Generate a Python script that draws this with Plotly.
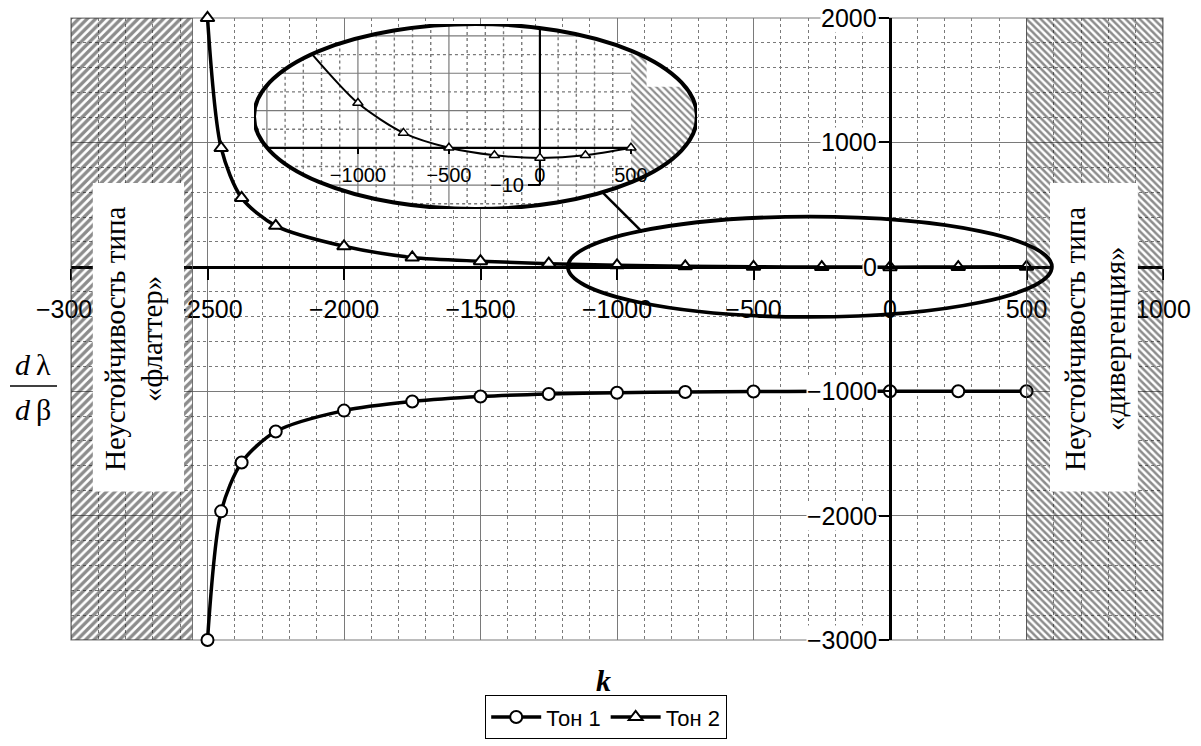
import numpy as np
import plotly.graph_objects as go

# ---------------- data ----------------
k_values = [-2500, -2450, -2375, -2250, -2000, -1750, -1500, -1250,
            -1000, -750, -500, -250, 0, 250, 500]
ton1_values = [-3000, -1966, -1573, -1324, -1156, -1083, -1043, -1022,
               -1012, -1006, -1003, -1001, -1000, -1000, -1000]
ton2_values = [2000, 955, 554, 329, 165, 75, 45, 25,
               12, 4, 0, -2, -2.7, -2, 0]
series_names = ["Тон 1", "Тон 2"]

x_tick_values = [-3000, -2500, -2000, -1500, -1000, -500, 0, 500, 1000]
y_tick_values = [2000, 1000, 0, -1000, -2000, -3000]
inset_x_tick_values = [-1000, -500, 0, 500]
inset_y_tick_values = [-10]

zone_left_text = ["Неустойчивость типа", "«флаттер»"]
zone_right_text = ["Неустойчивость типа", "«дивергенция»"]


def fmt(v):
    return str(v).replace("-", "\u2212")


# ---------------- layout geometry ----------------
W, H = 1201, 746
ML, MR, MT, MB = 71, 38, 18, 106
PW = W - ML - MR
PH = H - MT - MB


def pxx(px):
    return (px - ML) / PW


def pyy(py):
    return (H - MB - py) / PH


XR = [-3000, 1000]
YR = [-3000, 2000]
X2R = [-1571, 863]
Y2R = [-16.4, 33.2]
GRID = "#7a7a7a"
SANS = "Liberation Sans, Arial, sans-serif"
SERIF = "Liberation Serif, Times New Roman, serif"

ecx = (X2R[0] + X2R[1]) / 2
erx = (X2R[1] - X2R[0]) / 2
ecy = (Y2R[0] + Y2R[1]) / 2
ery = (Y2R[1] - Y2R[0]) / 2


def ell_half_h(x):
    u = (x - ecx) / erx
    return ery * np.sqrt(max(0.0, 1 - u * u))


def ell_half_w(y):
    v = (y - ecy) / ery
    return erx * np.sqrt(max(0.0, 1 - v * v))


fig = go.Figure()

# ---------------- main series ----------------
markers = [dict(symbol="circle", size=12, color="white", line=dict(color="black", width=2)),
           dict(symbol="triangle-up", size=12, color="white", line=dict(color="black", width=2))]
for name, vals, mk in zip(series_names, [ton1_values, ton2_values], markers):
    fig.add_trace(go.Scatter(
        x=k_values, y=vals, name=name, mode="lines+markers",
        line=dict(color="black", width=3.5, shape="spline", smoothing=0.8),
        marker=mk, cliponaxis=False, xaxis="x", yaxis="y"))

# ---------------- inset (x2/y2) ----------------
notch_x, notch_y = 586, 16.4
pts_x, pts_y = [], []
pts_x += [500, 500]
pts_y += [ecy - ell_half_h(500), ecy + ell_half_h(500)]
for xx in np.linspace(500, notch_x, 12):
    pts_x.append(xx)
    pts_y.append(ecy + ell_half_h(xx))
pts_x.append(notch_x)
pts_y.append(notch_y)
xr_n = ecx + ell_half_w(notch_y)
th1 = np.arctan2((notch_y - ecy) / ery, (xr_n - ecx) / erx)
th2 = np.arctan2(-ell_half_h(500) / ery, (500 - ecx) / erx)
for th in np.linspace(th1, th2, 40):
    pts_x.append(ecx + erx * np.cos(th))
    pts_y.append(ecy + ery * np.sin(th))
fig.add_trace(go.Scatter(
    x=pts_x, y=pts_y, mode="lines", fill="toself", line=dict(width=0),
    fillcolor="rgba(0,0,0,0)",
    fillpattern=dict(shape="\\", size=5, solidity=0.45, fgcolor="#1e1e1e",
                     bgcolor="rgba(0,0,0,0)"),
    showlegend=False, hoverinfo="skip", xaxis="x2", yaxis="y2"))

inset_line_k = [k for k in k_values if k >= -1250]
inset_line_v = [v for k, v in zip(k_values, ton2_values) if k >= -1250]
inset_mk_k = [k for k in k_values if k >= -1000]
inset_mk_v = [v for k, v in zip(k_values, ton2_values) if k >= -1000]
fig.add_trace(go.Scatter(
    x=inset_line_k, y=inset_line_v, mode="lines",
    line=dict(color="black", width=2, shape="spline", smoothing=0.8),
    showlegend=False, hoverinfo="skip", xaxis="x2", yaxis="y2"))
fig.add_trace(go.Scatter(
    x=inset_mk_k, y=inset_mk_v, mode="markers",
    marker=dict(symbol="triangle-up", size=9, color="white", line=dict(color="black", width=1.5)),
    showlegend=False, hoverinfo="skip", xaxis="x2", yaxis="y2", cliponaxis=False))

# ---------------- hatched instability zones (x3/y3, above main labels) ----------------
zones = [(-3000, -2555, "/", 6, 0.56), (500, 1000, "\\", 5, 0.5)]
for x0, x1, shp, sz, sol in zones:
    fig.add_trace(go.Scatter(
        x=[x0, x1, x1, x0, x0], y=[YR[0], YR[0], YR[1], YR[1], YR[0]],
        mode="lines", fill="toself", line=dict(width=0.8, color="#555"),
        fillcolor="rgba(0,0,0,0)",
        fillpattern=dict(shape=shp, size=sz, solidity=sol, fgcolor="#1a1a1a",
                         bgcolor="rgba(0,0,0,0)"),
        showlegend=False, hoverinfo="skip", xaxis="x3", yaxis="y3"))

shapes = []
shapes.append(dict(type="rect", xref="paper", yref="paper", x0=0, x1=1, y0=0, y1=1,
                   line=dict(color=GRID, width=1.2), layer="below"))
shapes.append(dict(type="circle", xref="x2", yref="y2", x0=X2R[0], x1=X2R[1],
                   y0=Y2R[0], y1=Y2R[1], fillcolor="white", line=dict(width=0), layer="below"))
for gx in range(-1500, 500, 100):
    if gx == 0:
        continue
    h = ell_half_h(gx)
    major = gx % 500 == 0
    shapes.append(dict(type="line", xref="x2", yref="y2", x0=gx, x1=gx,
                       y0=ecy - h, y1=ecy + h, layer="below",
                       line=dict(color=GRID, width=1.2 if major else 1.4,
                                 dash="solid" if major else "dot")))
for gy in [-15, -10, -5, 5, 10, 15, 20, 25, 30]:
    w = ell_half_w(gy)
    major = gy % 10 == 0
    shapes.append(dict(type="line", xref="x2", yref="y2", x0=ecx - w, x1=min(ecx + w, 500),
                       y0=gy, y1=gy, layer="below",
                       line=dict(color=GRID, width=1.2 if major else 1.4,
                                 dash="solid" if major else "dot")))
shapes.append(dict(type="line", xref="x2", yref="y2", x0=ecx - ell_half_w(0), x1=500,
                   y0=0, y1=0, line=dict(color="black", width=2.2), layer="below"))
shapes.append(dict(type="line", xref="x2", yref="y2", x0=0, x1=0,
                   y0=-10, y1=ecy + ell_half_h(0), line=dict(color="black", width=2.2),
                   layer="below"))
for bx0, bx1 in [(-2920, -2586), (586, 908)]:
    shapes.append(dict(type="rect", xref="x", yref="y", x0=bx0, x1=bx1, y0=-1806, y1=674,
                       fillcolor="white", line=dict(width=0), layer="above"))
shapes.append(dict(type="circle", xref="x", yref="y", x0=-1180, x1=593, y0=-403, y1=403,
                   line=dict(color="black", width=3.8), layer="above"))
shapes.append(dict(type="circle", xref="x2", yref="y2", x0=X2R[0], x1=X2R[1],
                   y0=Y2R[0], y1=Y2R[1], line=dict(color="black", width=4), layer="above"))
shapes.append(dict(type="line", xref="x", yref="y", x0=-1051, y0=595, x1=-908, y1=281,
                   line=dict(color="black", width=2.5), layer="above"))
shapes.append(dict(type="line", xref="paper", yref="paper", x0=pxx(10), x1=pxx(57),
                   y0=pyy(386), y1=pyy(386), line=dict(color="black", width=1.5)))

annotations = []
for v in y_tick_values:
    annotations.append(dict(x=0, y=v, xref="x", yref="y", text=fmt(v), showarrow=False,
                            xanchor="right", yanchor="middle", xshift=-12,
                            bgcolor="white", borderpad=0,
                            font=dict(family=SANS, size=25, color="black")))
for xs, lines in [((-2839, -2703), zone_left_text), ((678, 824), zone_right_text)]:
    for xv, t in zip(xs, lines):
        annotations.append(dict(x=xv, y=-580, xref="x", yref="y", text=t, showarrow=False,
                                textangle=-90, xanchor="center", yanchor="middle",
                                font=dict(family=SERIF, size=29, color="black")))
annotations.append(dict(x=pxx(603), y=pyy(680), xref="paper", yref="paper",
                        text="<b><i>k</i></b>", showarrow=False,
                        xanchor="center", yanchor="middle",
                        font=dict(family=SERIF, size=30, color="black")))
annotations.append(dict(x=pxx(33), y=pyy(364), xref="paper", yref="paper",
                        text="<i>d</i>\u2009λ", showarrow=False,
                        xanchor="center", yanchor="middle",
                        font=dict(family=SERIF, size=30, color="black")))
annotations.append(dict(x=pxx(33), y=pyy(409), xref="paper", yref="paper",
                        text="<i>d</i>\u2009β", showarrow=False,
                        xanchor="center", yanchor="middle",
                        font=dict(family=SERIF, size=30, color="black")))

fig.update_layout(
    width=W, height=H,
    margin=dict(l=ML, r=MR, t=MT, b=MB, autoexpand=False),
    paper_bgcolor="white", plot_bgcolor="rgba(0,0,0,0)",
    font=dict(family=SANS, color="black"),
    showlegend=True,
    legend=dict(orientation="h", x=pxx(606), y=pyy(739), xanchor="center", yanchor="bottom",
                bordercolor="black", borderwidth=1.2, bgcolor="white",
                font=dict(family=SANS, size=22, color="black"), itemwidth=50,
                tracegroupgap=0),
    xaxis=dict(range=XR, domain=[0, 1], anchor="free", position=0.6,
               showline=True, linecolor="black", linewidth=3,
               tickvals=x_tick_values, ticktext=[fmt(v) for v in x_tick_values],
               ticks="outside", ticklen=11, tickwidth=2, tickcolor="black",
               ticklabelstandoff=8,
               tickfont=dict(family=SANS, size=25, color="black"),
               showgrid=True, gridcolor=GRID, gridwidth=1.2, zeroline=False,
               minor=dict(tick0=0, dtick=100, showgrid=True, gridcolor=GRID,
                          griddash="dot", gridwidth=1.4, ticks="")),
    yaxis=dict(range=YR, domain=[0, 1], anchor="free", position=0.75,
               showline=True, linecolor="black", linewidth=3,
               tickvals=y_tick_values, showticklabels=False,
               ticks="outside", ticklen=10, tickwidth=2, tickcolor="black",
               showgrid=True, gridcolor=GRID, gridwidth=1.2, zeroline=False,
               minor=dict(tick0=0, dtick=200, showgrid=True, gridcolor=GRID,
                          griddash="dot", gridwidth=1.4, ticks="")),
    xaxis2=dict(range=X2R, domain=[pxx(254), pxx(697)], anchor="free",
                position=pyy(147.7), showline=False, showgrid=False, zeroline=False,
                tickvals=inset_x_tick_values, ticktext=[fmt(v) for v in inset_x_tick_values],
                ticks="outside", ticklen=5, tickwidth=1.5, tickcolor="black",
                ticklabelstandoff=4,
                tickfont=dict(family=SANS, size=20, color="black")),
    yaxis2=dict(range=Y2R, domain=[pyy(209), pyy(24)], anchor="free",
                position=pxx(540), showline=False, showgrid=False, zeroline=False,
                tickvals=inset_y_tick_values, ticktext=[fmt(v) for v in inset_y_tick_values],
                ticks="outside", ticklen=12, tickwidth=1.5, tickcolor="black",
                tickfont=dict(family=SANS, size=20, color="black")),
    xaxis3=dict(range=XR, domain=[0, 1], anchor="y3", visible=False),
    yaxis3=dict(range=YR, domain=[0, 1], anchor="x3", visible=False),
    shapes=shapes, annotations=annotations,
)

fig.write_html("out.html", config={"displayModeBar": False},
               post_script="document.body.style.margin='0px';")
